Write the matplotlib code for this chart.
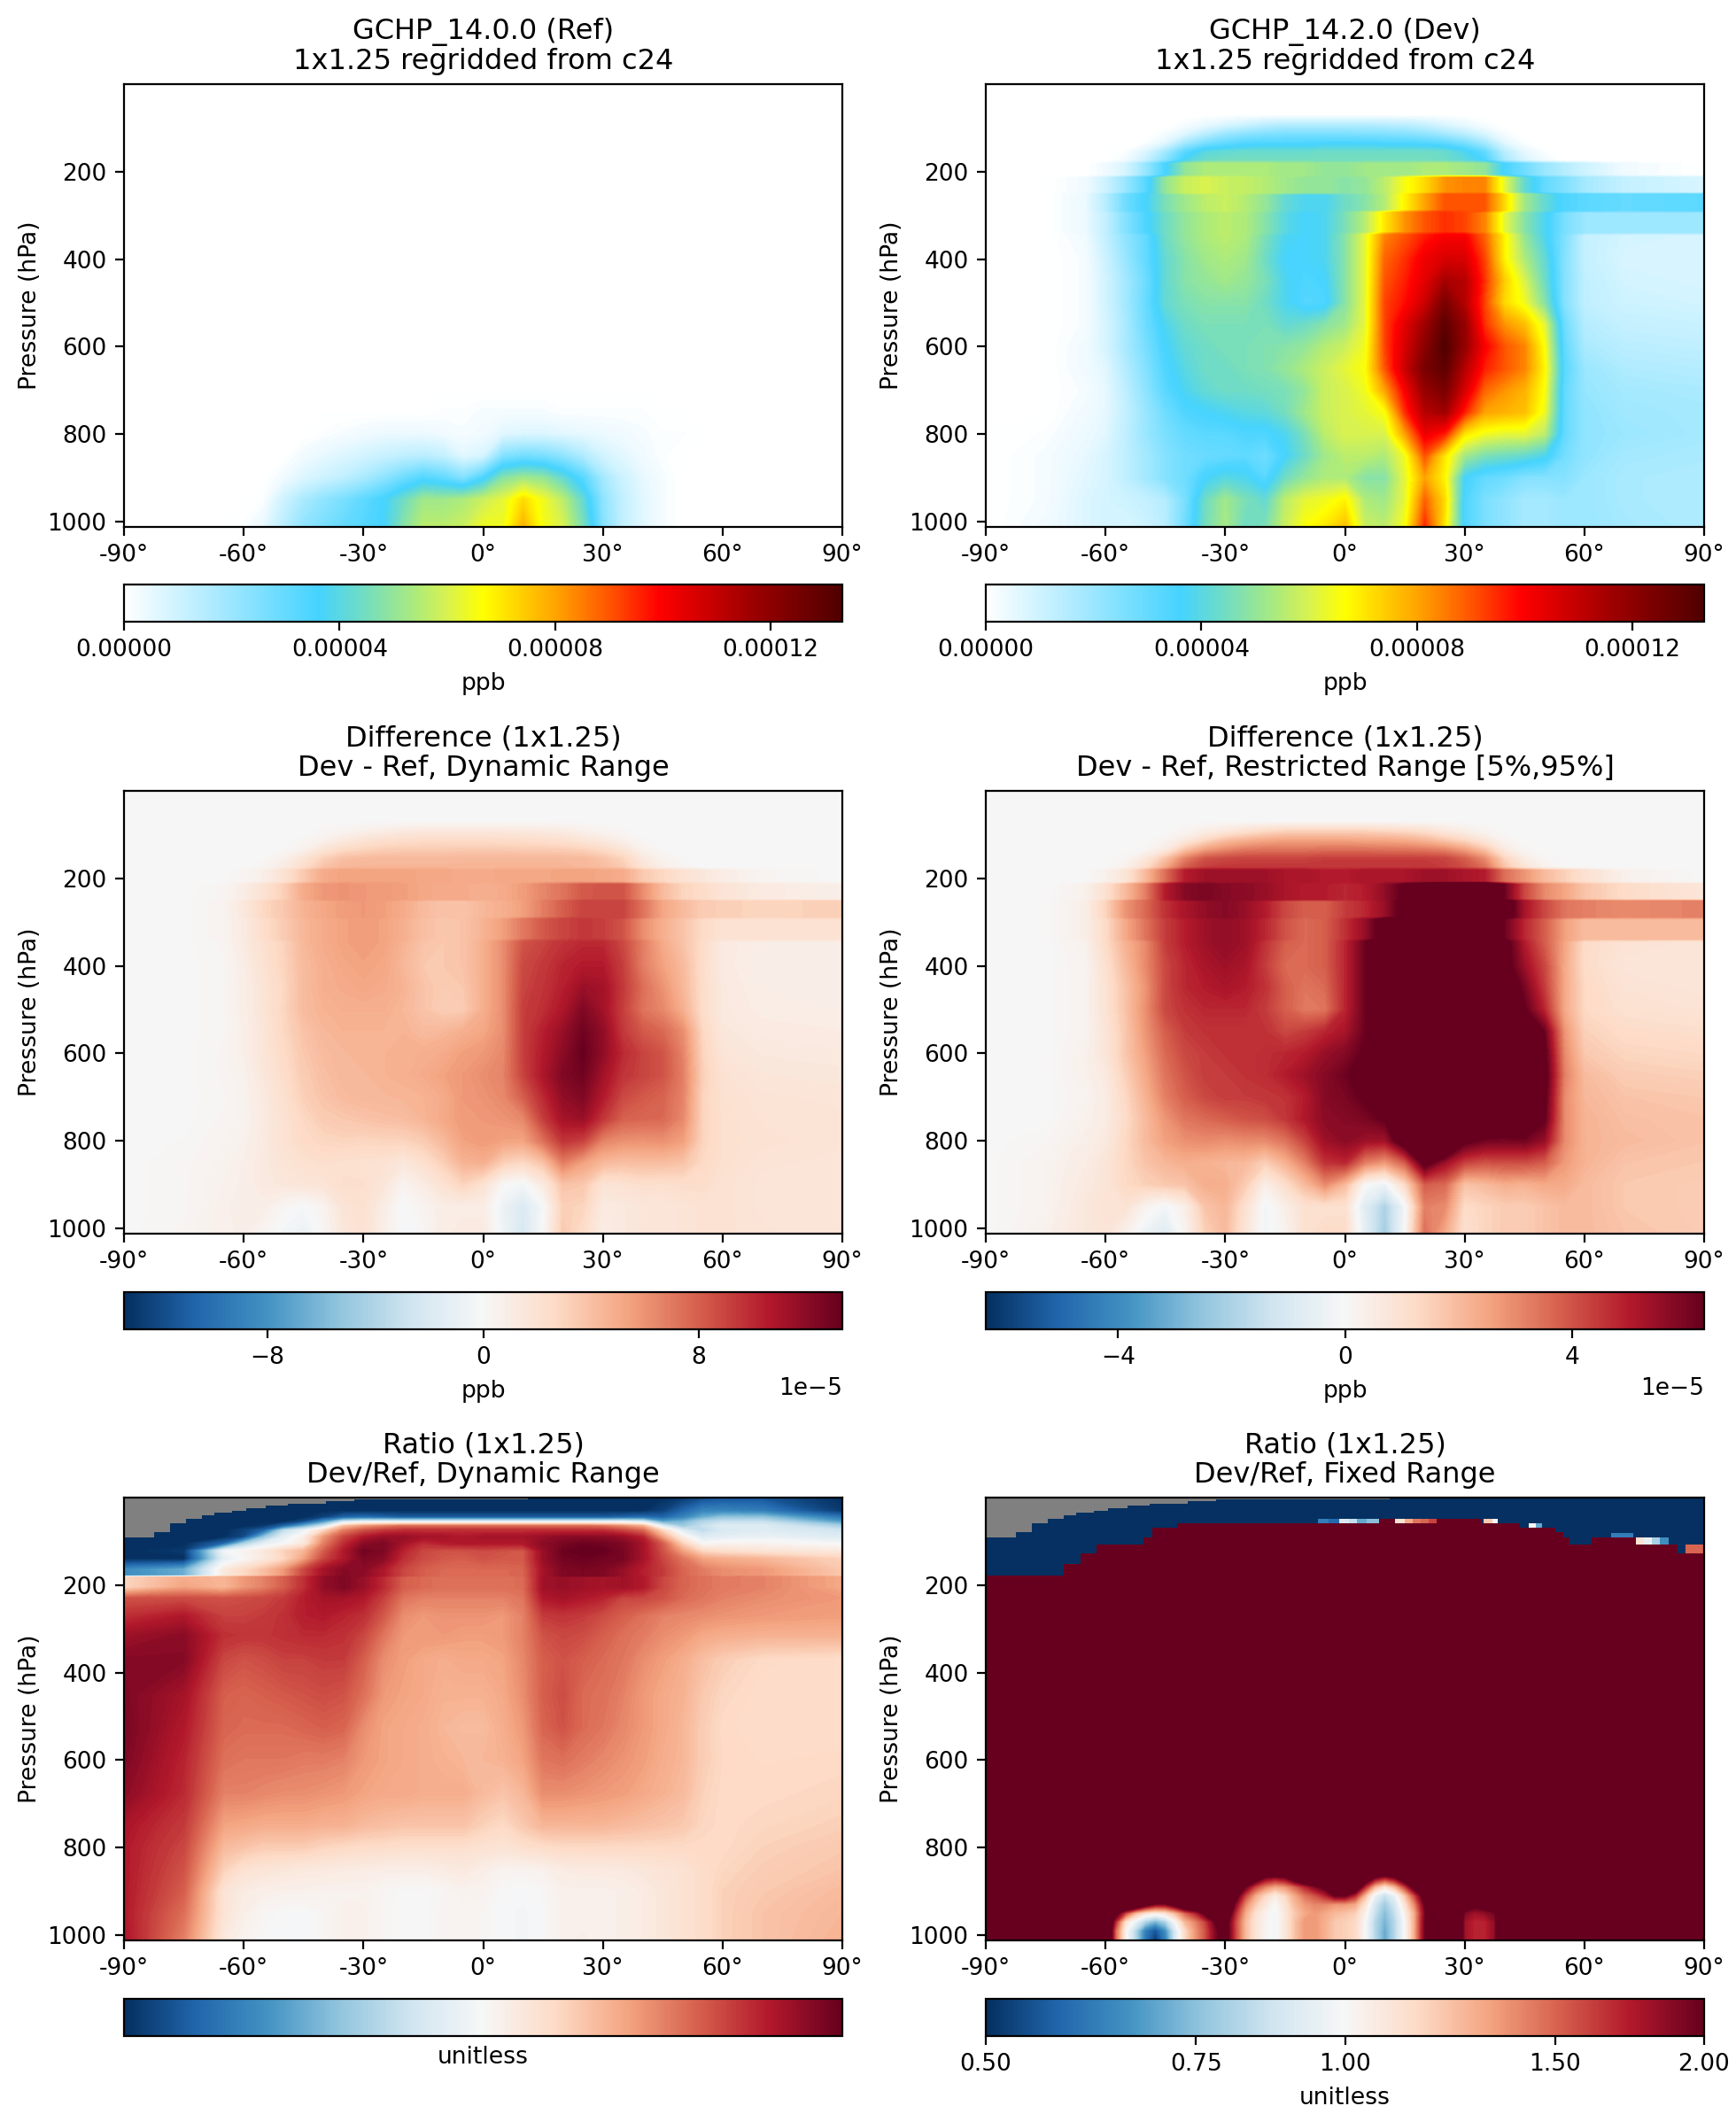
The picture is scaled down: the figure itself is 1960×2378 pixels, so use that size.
import numpy as np
import matplotlib
matplotlib.use("Agg")
import matplotlib.pyplot as plt
from matplotlib.cm import ScalarMappable
from matplotlib.colors import LinearSegmentedColormap, LogNorm, Normalize

# all concentrations below are in 1e-6 ppb
lat = [-90,-75,-65,-60,-55,-50,-45,-40,-35,-30,-25,-20,-15,-10,-5,0,5,10,15,20,25,30,35,40,45,50,55,60,70,90]
pres = [0,70,95,115,135,155,175,182,208,214,248,252,288,294,338,345,400,450,500,550,600,650,700,750,800,850,900,950,1012]

dev = [
[0]*30,
[0]*30,
[0,0,0,0,0,0,0,2,5,8,11,14,16,16,16,16,16,15,14,12,8,5,2,0,0,0,0,0,0,0],
[0,0,0,0,0,0,2,7,14,20,23,25,26,26,26,26,25,25,24,22,18,14,8,2,0,0,0,0,0,0],
[0,0,0,0,0,1,6,18,26,30,33,34,34,34,35,35,35,34,34,33,31,26,18,6,1,0,0,0,0,0],
[0,0,0,0,1,7,18,32,40,42,43,43,43,43,44,44,44,44,44,44,43,38,30,14,5,1,0,0,0,0],
[0,0,0,0,3,11,24,38,44,45,45,45,45,45,45,45,45,45,45,45,44,41,35,18,8,3,0,0,0,0],
[0,0,0,3,8,20,35,50,54,54,54,54,52,52,50,50,52,52,52,54,54,52,50,35,28,20,15,10,3,0],
[0,0,0,3,8,20,35,50,54,54,54,54,52,52,50,50,52,52,52,54,54,52,50,35,28,20,15,10,3,0],
[0,0,3,10,20,32,50,58,60,58,57,55,52,50,50,48,50,56,65,72,82,84,84,62,42,30,25,18,12,8],
[0,0,3,10,20,32,50,58,60,58,57,55,52,50,50,48,50,56,65,72,82,84,84,62,42,30,25,18,12,8],
[0,0,4,14,28,36,46,52,56,58,55,50,42,38,38,44,48,55,68,80,90,90,90,72,52,42,34,32,30,32],
[0,0,4,14,28,36,46,52,56,58,55,50,42,38,38,44,48,55,68,80,90,90,90,72,52,42,34,32,30,32],
[0,0,4,12,24,34,44,50,54,56,54,48,40,36,38,46,55,70,82,90,94,92,84,62,48,38,26,20,20,20],
[0,0,4,12,24,34,44,50,54,56,54,48,40,36,38,46,55,70,82,90,94,92,84,62,48,38,26,20,20,20],
[0,0,3,12,22,30,44,50,54,56,54,46,38,36,38,48,62,84,90,96,100,100,88,68,50,38,25,12,9,8],
[0,0,2,10,20,30,42,48,52,54,52,44,36,36,38,48,62,88,94,102,106,106,92,68,54,42,24,12,8,8],
[0,0,2,9,18,28,42,48,50,52,50,46,38,34,36,48,62,90,96,104,115,112,94,74,60,44,24,13,9,8],
[0,0,2,9,18,29,42,46,48,48,48,44,38,33,34,48,62,92,98,108,124,112,92,72,64,48,24,13,10,9],
[0,0,2,8,17,28,38,44,46,46,46,46,42,44,48,52,62,92,104,116,130,118,94,82,76,62,28,15,12,11],
[0,0,3,8,17,26,36,42,44,46,46,47,48,50,55,58,64,92,106,120,133,118,100,90,84,66,30,17,14,13],
[0,0,3,6,15,24,34,40,44,44,46,47,50,54,58,62,66,90,108,124,130,112,96,90,84,68,32,20,16,15],
[0,0,2,5,13,22,32,38,42,44,44,45,46,50,58,60,64,80,100,118,124,106,88,82,78,66,30,21,18,17],
[0,0,3,5,12,20,28,34,36,38,40,41,45,52,58,60,62,66,94,112,116,96,80,78,76,64,30,22,19,18],
[0,1,4,6,13,20,26,30,32,32,34,34,38,46,56,60,60,60,80,102,96,70,64,62,62,56,30,22,20,18],
[0,2,5,8,13,18,24,28,29,30,31,28,36,44,52,56,56,54,64,90,70,52,46,44,42,38,27,22,18,17],
[0,2,6,8,13,18,24,28,36,40,38,32,44,50,54,54,48,48,62,80,68,36,30,28,24,24,24,20,17,16],
[0,2,7,9,10,12,15,26,44,52,46,42,56,62,64,68,54,52,62,88,72,34,26,22,18,18,20,20,17,16],
[0,3,7,9,8,10,14,28,45,53,44,46,58,66,70,76,58,56,65,95,70,34,26,22,18,18,20,20,18,16],
]

# only the lowest levels of Ref differ from zero
ref_low = [
[0,0,0,0,0,0,0,0,0,0,0,0,0,1,1,2,2,2,2,1,1,1,1,1,0,0,0,0,0,0],
[0,0,0,0,0,0,0,1,2,3,4,4,4,3,2,3,6,7,7,6,5,4,3,2,1,1,0,0,0,0],
[0,0,0,0,0,0,3,5,7,9,11,13,14,12,6,8,24,27,26,22,16,9,6,3,1,0,0,0,0,0],
[0,0,0,0,0,3,7,10,13,17,22,28,33,30,24,34,48,52,50,42,32,18,10,5,2,0,0,0,0,0],
[0,0,0,0,1,10,17,22,26,31,36,44,52,52,54,58,62,72,64,56,42,22,12,6,2,0,0,0,0,0],
[0,0,0,1,5,14,22,26,30,33,36,48,56,56,58,64,64,78,65,60,46,24,12,6,2,0,0,0,0,0],
]
ref_rows = len(ref_low)

ratio_pres = [0,30,45,55,65,75,90,105,122,140,165,178,182,205,230,270,315,370,450,525,600,675,750,800,850,900,950,1012]

# log10(Dev/Ref) in hundredths of a decade
ratio_log = [
[-300]*24+[-300,-290,-270,-260,-260,-300],
[-300]*23+[-300,-280,-240,-200,-200,-210,-290],
[-300,-300,-300,-300,-300,-300,-300,-280,-240,-230,-240,-250,-250,-250,-250,-250,-250,-250,-250,-250,-250,-250,-240,-230,-240,-200,-150,-120,-120,-220],
[-300,-300,-300,-300,-300,-300,-270,-180,-60,-30,-30,-30,-30,-30,-30,-30,-30,-30,-30,-30,-30,-30,-30,-50,-160,-140,-90,-70,-70,-170],
[-300,-300,-300,-300,-290,-240,-150,-60,90,130,150,170,170,170,170,170,170,170,170,170,170,160,140,110,-40,-110,-70,-40,-40,-100],
[-300,-300,-300,-280,-240,-80,-20,60,150,190,210,220,220,220,220,220,220,220,220,220,220,220,200,170,60,-40,-80,-50,-40,-60],
[-300,-300,-300,-270,-120,-30,20,130,200,240,260,260,250,250,240,250,250,250,260,270,270,270,260,230,120,20,-40,-30,-20,-40],
[-300,-300,-240,-100,-30,-5,30,150,220,270,280,250,220,235,240,240,240,240,270,285,295,290,280,250,180,70,0,10,10,-5],
[-300,-290,-10,10,30,70,100,180,240,290,280,230,200,190,190,195,190,185,260,295,300,300,285,250,190,120,60,50,40,30],
[-300,-300,-30,0,30,60,120,200,240,280,270,220,195,185,180,190,185,185,260,290,295,290,285,250,200,160,120,110,100,70],
[-190,-150,30,60,90,130,200,250,275,270,240,200,180,170,170,170,170,175,250,280,285,280,260,235,210,175,155,140,130,80],
[-190,-150,30,60,90,130,200,250,275,270,240,200,180,170,170,170,170,175,250,280,285,280,260,235,210,175,155,140,130,80],
[65,110,100,130,150,180,220,265,280,260,225,180,170,165,165,165,165,170,255,260,255,250,255,240,200,175,165,155,150,115],
[65,120,100,130,150,180,220,265,280,260,225,180,170,165,165,165,165,170,255,260,255,250,255,240,200,175,165,155,150,115],
[190,195,190,195,200,210,235,250,250,240,205,160,150,150,150,150,150,160,240,250,240,230,200,200,190,170,160,150,140,130],
[220,240,205,205,210,220,235,240,230,220,185,140,130,135,135,135,130,150,210,215,210,195,180,165,150,145,140,135,130,125],
[255,270,220,215,215,220,225,225,220,200,160,130,130,130,125,125,130,150,190,200,195,180,165,155,140,130,115,110,105,105],
[275,275,200,190,195,205,205,210,210,180,140,125,115,110,115,115,120,145,180,190,180,170,160,140,125,110,90,75,60,55],
[280,250,180,175,180,185,190,195,190,165,130,120,115,105,105,105,115,140,180,195,170,165,150,130,115,105,80,65,55,55],
[285,240,175,170,170,170,175,180,175,140,120,115,110,100,95,95,110,130,175,190,170,160,145,130,115,100,75,60,55,55],
[280,230,165,160,160,160,155,155,150,130,120,115,110,105,100,100,105,120,160,165,155,145,135,125,110,100,75,62,58,60],
[270,225,150,150,145,140,140,135,130,120,115,115,110,110,110,95,85,100,140,140,135,130,125,115,105,95,70,60,60,65],
[245,210,120,115,110,110,110,105,105,95,90,85,85,85,85,70,60,80,100,100,100,100,95,90,85,80,65,60,65,72],
[240,200,95,85,75,75,75,65,60,55,55,50,50,50,50,45,42,50,55,60,60,60,60,60,60,60,60,60,70,80],
[240,190,70,45,40,35,30,30,25,25,20,20,20,25,30,20,10,10,15,25,28,28,30,35,40,45,55,65,75,85],
[240,180,40,25,18,15,15,12,12,12,5,0,0,5,12,10,0,-3,3,15,15,15,18,25,35,45,55,70,80,95],
[240,165,40,18,5,0,-3,5,15,15,5,-2,0,8,8,5,-3,-8,0,15,15,15,18,25,35,45,55,70,85,100],
[245,150,30,10,0,-5,-5,5,15,15,5,-2,0,8,8,5,-3,-8,0,15,18,15,18,25,35,45,55,70,85,105],
]

# plain Dev/Ref near the ground, where the fixed range panel is not saturated
low_lat = [-60,-57.5,-55,-52.5,-50,-47.5,-45,-42.5,-40,-37.5,-35,-32.5,-30,-27.5,-25,-22.5,-20,-17.5,-15,-12.5,-10,-7.5,-5,-2.5,0,2.5,5,7.5,10,12.5,15,17.5,20,22.5,25,27.5,30,32.5,35,37.5,40]
low_pres = [850,870,890,910,930,950,970,990,1012]
low_ratio = [
[3]*41,
[3,3,3,3,3,3,3,3,3,3,3,3,3,3,3,2.3,1.9,1.8,1.9,2.3,2.6,3,3,3,3,3,2.4,1.9,1.7,1.9,2.4,3,3,3,3,3,3,3,3,3,3],
[3,3,3,3,3,3,3,3,3,3,3,3,3,3,2.0,1.6,1.4,1.3,1.35,1.5,1.7,1.9,2.1,2.6,3,2.5,1.7,1.25,1.1,1.25,1.6,2.2,3,3,3,3,3,3,3,3,3],
[3,3,3,3,3,3,3,3,3,3,3,3,3,2.2,1.6,1.3,1.15,1.05,1.15,1.3,1.45,1.55,1.7,2.0,2.0,1.7,1.25,0.95,0.85,0.95,1.2,1.6,2.2,3,3,3,3,3,3,3,3],
[3,3,3,2.8,2.2,1.9,1.9,2.2,2.8,3,3,3,3,1.9,1.4,1.2,1.08,1.0,1.1,1.25,1.35,1.4,1.4,1.35,1.35,1.3,1.1,0.88,0.78,0.88,1.1,1.4,2.0,3,3,3,2.4,2.1,2.2,3,3],
[3,2.2,1.6,1.25,1.1,1.05,1.1,1.25,1.5,1.7,2.1,3,2.5,1.7,1.3,1.12,1.03,0.98,1.08,1.2,1.3,1.35,1.3,1.25,1.22,1.18,1.03,0.85,0.74,0.85,1.03,1.3,1.9,3,3,3,1.9,1.8,1.85,1.95,3],
[3,1.7,1.1,0.95,0.8,0.72,0.8,1.0,1.25,1.4,1.6,2.0,2.2,1.6,1.25,1.1,1.02,0.98,1.08,1.22,1.35,1.35,1.28,1.2,1.18,1.15,1.0,0.82,0.72,0.82,1.0,1.3,1.95,3,3,3,1.8,1.7,1.7,1.85,3],
[3,1.5,1.03,0.82,0.62,0.55,0.65,0.9,1.15,1.35,1.55,1.9,2.2,1.6,1.25,1.1,1.02,0.98,1.08,1.22,1.35,1.35,1.28,1.2,1.18,1.15,1.0,0.82,0.7,0.82,1.0,1.3,1.95,3,3,3,1.8,1.7,1.7,1.85,3],
[3,1.5,1.03,0.82,0.6,0.51,0.62,0.9,1.15,1.35,1.55,1.9,2.2,1.6,1.25,1.1,1.02,0.98,1.08,1.22,1.35,1.35,1.28,1.2,1.18,1.15,1.0,0.82,0.7,0.82,1.0,1.3,1.95,3,3,3,1.8,1.7,1.7,1.85,3],
]

# stairs of the ratio panels: missing data on top, then values under 0.5
gray_lat = [-90,-82.5,-78.5,-74.5,-70.5,-67.4,-62.9,-59.4,-54.5,-49,-39.3,-32.4,11.2]
gray_pres = [91,79.5,59,49,41,34.5,30,24,18,14,8,5,0]
blue_lat = [-90,-70.5,-66.3,-62.2,-50.4,-48.3,-42.1,8.5,34.1,43.8,52.8,54.6,56.3,61.8,72.9,83.3,90]
blue_pres = [177.5,151,128.5,108,92,69,59,49,59,69,79.5,92,108,92,108,128,128]

# small cells along that edge: lat edges, top, bottom, ratio
fleck_lat = [[-6.8,-4,-1.5,1,3,5.5,8.5],[12.6,15,17,19,21,23],[34.8,37,38.3],[46,47.8,49.3],[66.7,72.2],[72.9,75,77,79,81.2],[85.4,90]]
fleck_top = [49,49,49,59,80,92,108]
fleck_bot = [59,59,59,69,92,108,128]
fleck_val = [[0.62,0.58,0.9,0.85,0.7,0.75],[1.1,1.3,1.45,1.5,1.6],[1.2,1.0],[1.0,0.7],[0.62],[1.1,0.95,0.8,0.65],[1.5]]

titles = ["GCHP_14.0.0 (Ref)\n1x1.25 regridded from c24", "GCHP_14.2.0 (Dev)\n1x1.25 regridded from c24",
          "Difference (1x1.25)\nDev - Ref, Dynamic Range", "Difference (1x1.25)\nDev - Ref, Restricted Range [5%,95%]",
          "Ratio (1x1.25)\nDev/Ref, Dynamic Range", "Ratio (1x1.25)\nDev/Ref, Fixed Range"]
lat_ticks = [-90,-60,-30,0,30,60,90]
lat_labels = ["-90°","-60°","-30°","0°","30°","60°","90°"]
pres_ticks = [200,400,600,800,1000]

dev = np.array(dev) * 1e-6
ref = np.zeros(dev.shape)
ref[-ref_rows:] = np.array(ref_low) * 1e-6
diff = dev - ref
ratio_log = np.array(ratio_log)

W, H = 1960, 2378
plt.rcParams["font.size"] = 9.5
plt.rcParams["axes.linewidth"] = 0.8

wh = LinearSegmentedColormap.from_list("WhGrYlRd", [
    (0, "#ffffff"), (0.12, "#b0ebff"), (0.27, "#45d3ff"), (0.33, "#6fdcc6"), (0.40, "#a8ea80"),
    (0.45, "#d8f250"), (0.5, "#ffff00"), (0.6, "#ffa500"), (0.68, "#ff5000"), (0.745, "#ff0000"),
    (0.87, "#a00000"), (1, "#4f0000")], N=512)
rb = plt.get_cmap("RdBu_r")

fig = plt.figure(figsize=(W / 200, H / 200), dpi=200)

lefts = [140, 1113]
width = 811
tops = [95, 893, 1691]
cbar_tops = [660, 1459, 2257]


def px_axes(x, y, w, h):
    return fig.add_axes([x / W, 1 - (y + h) / H, w / W, h / H])


axes = []
caxes = []
for r in range(3):
    for c in range(2):
        axes.append(px_axes(lefts[c], tops[r], width, 500))
        caxes.append(px_axes(lefts[c], cbar_tops[r], width, 42))


def field(ax, x, y, z, cmap, vmin, vmax):
    levels = np.linspace(vmin, vmax, 160)
    ax.contourf(x, y, z, levels=levels, cmap=cmap, norm=Normalize(vmin, vmax),
                extend="both", antialiased=False)


vtop = 1.333e-4
field(axes[0], lat, pres, ref, wh, 0, vtop)
field(axes[1], lat, pres, dev, wh, 0, vtop)
field(axes[2], lat, pres, diff, rb, -1.333e-4, 1.333e-4)
field(axes[3], lat, pres, diff, rb, -6.33e-5, 6.33e-5)
field(axes[4], lat, ratio_pres, ratio_log, rb, -300, 300)
axes[4].fill_between(gray_lat, gray_pres, 0, step="post", color="gray", lw=0)

fixed = LogNorm(0.5, 2)
ax = axes[5]
ax.set_facecolor(rb(1.0))
field(ax, low_lat, low_pres, np.log10(low_ratio), rb, np.log10(0.5), np.log10(2))
ax.fill_between(blue_lat, blue_pres, 0, step="post", color=rb(0.0), lw=0)
ax.fill_between(gray_lat, gray_pres, 0, step="post", color="gray", lw=0)
for edges, p0, p1, vals in zip(fleck_lat, fleck_top, fleck_bot, fleck_val):
    ax.pcolormesh(edges, [p0, p1], [vals], cmap=rb, norm=fixed)

for ax, title in zip(axes, titles):
    ax.set_xlim(-90, 90)
    ax.set_ylim(1012.5, 0.01)
    ax.set_xticks(lat_ticks)
    ax.set_xticklabels(lat_labels)
    ax.set_yticks(pres_ticks)
    ax.set_ylabel("Pressure (hPa)", fontsize=9.6, labelpad=2.5)
    ax.set_title(title, fontsize=11.5, linespacing=1.1)

for i, cax in enumerate(caxes):
    if i < 2:
        cb = fig.colorbar(ScalarMappable(Normalize(0, vtop), wh), cax=cax, orientation="horizontal", format="%.5f")
        cb.set_ticks([0, 4e-5, 8e-5, 12e-5])
        cb.set_label("ppb", fontsize=9.6)
    elif i < 4:
        v = 1.333e-4 if i == 2 else 6.33e-5
        t = 8e-5 if i == 2 else 4e-5
        cb = fig.colorbar(ScalarMappable(Normalize(-v, v), rb), cax=cax, orientation="horizontal")
        cb.set_ticks([-t, 0, t])
        cb.set_label("ppb", fontsize=9.6)
    elif i == 4:
        cb = fig.colorbar(ScalarMappable(LogNorm(1e-3, 1e3), rb), cax=cax, orientation="horizontal")
        cb.set_ticks([])
        cb.minorticks_off()
        cb.set_label("unitless", fontsize=9.6)
    else:
        cb = fig.colorbar(ScalarMappable(fixed, rb), cax=cax, orientation="horizontal", format="%.2f")
        cb.set_ticks([0.5, 0.75, 1, 1.5, 2])
        cb.minorticks_off()
        cb.set_label("unitless", fontsize=9.6)

fig.savefig("out.png", dpi=200)
